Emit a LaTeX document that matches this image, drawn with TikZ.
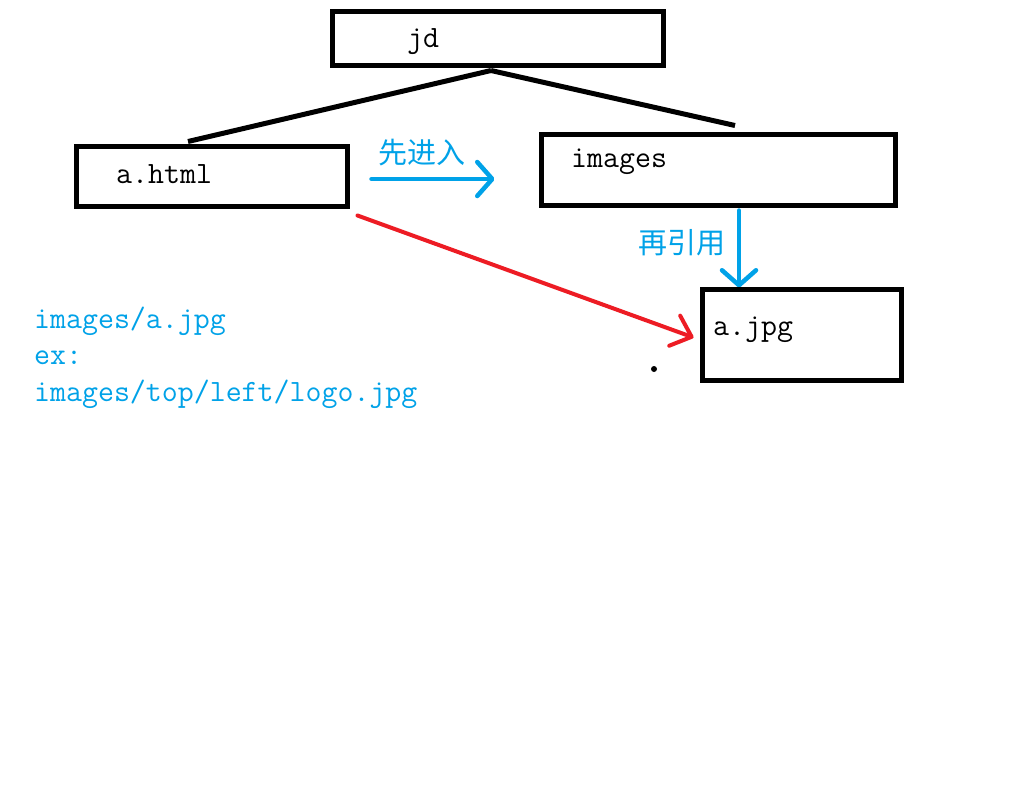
\documentclass[tikz,border=0pt]{standalone}
\usepackage{fontspec}
\newfontfamily\cjk{Noto Sans CJK SC}
\usetikzlibrary{arrows.meta,calc}
\definecolor{pblue}{RGB}{0,162,232}
\definecolor{pred}{RGB}{237,28,36}
\begin{document}
\begin{tikzpicture}[x=1pt,y=-1pt,
  box/.style={draw=black, line width=5pt, inner sep=0pt},
  monotxt/.style={anchor=base west, inner sep=0pt, font=\ttfamily\fontsize{31}{36}\selectfont},
  cjktxt/.style={inner sep=0pt, text=pblue, font=\cjk\fontsize{29}{32}\selectfont},
  conn/.style={draw=black, line width=5pt},
  barrow/.style={draw=pblue, line width=4.5pt, line cap=round, -{Straight Barb[length=15pt,width=34pt,round]}},
  rarrow/.style={draw=pred, line width=4pt, line cap=round, -{Straight Barb[length=18pt,width=32pt,round]}}]
\useasboundingbox[fill=white] (0,0) rectangle (1016,796);
% boxes
\node[box, minimum width=331pt, minimum height=54pt] (jd) at (497.5,38) {};
\node[box, minimum width=271pt, minimum height=60pt] (html) at (211.5,176) {};
\node[box, minimum width=354pt, minimum height=71pt] (images) at (718,169.5) {};
\node[box, minimum width=199pt, minimum height=91pt] (ajpg) at (801.5,334.5) {};
% box texts
\node[monotxt] (jdt) at (407,47) {jd};
\node[monotxt] (htmlt) at (116,183) {a.html};
\node[monotxt] (imagest) at (571,167) {images};
\node[monotxt] (ajpgt) at (713,335) {a.jpg};
% tree lines
\draw[conn] ($(jd.south)+(-6.5,3)$) -- ($(html.north)+(-23.5,-2)$);
\draw[conn] ($(jd.south)+(-6.5,3)$) -- ($(images.north)+(17,-6)$);
\draw[conn] ($(images.south)+(62,0)$) -- ($(images.south)+(62,0)$ |- ajpg.north);
% arrows
\draw[barrow] ($(html.east)+(22,3)$) -- ($(images.west)+(-44,9.5)$);
\node[cjktxt] (l1) at (422,153) {先进入};
\draw[barrow] ($(images.south)+(21,3)$) -- ($(ajpg.north)+(-62.5,1)$);
\node[cjktxt] (l2) at (682,243) {再引用};
\draw[rarrow] ($(html.south east)+(8,7)$) -- ($(ajpg.west)+(-6,3)$);
\fill[black] (654,369) circle (3pt);
% blue notes
\node[monotxt, text=pblue] (n1) at (34,328) {images/a.jpg};
\node[monotxt, text=pblue] (n2) at (34,364) {ex:};
\node[monotxt, text=pblue] (n3) at (34,401) {images/top/left/logo.jpg};
\end{tikzpicture}
\end{document}
